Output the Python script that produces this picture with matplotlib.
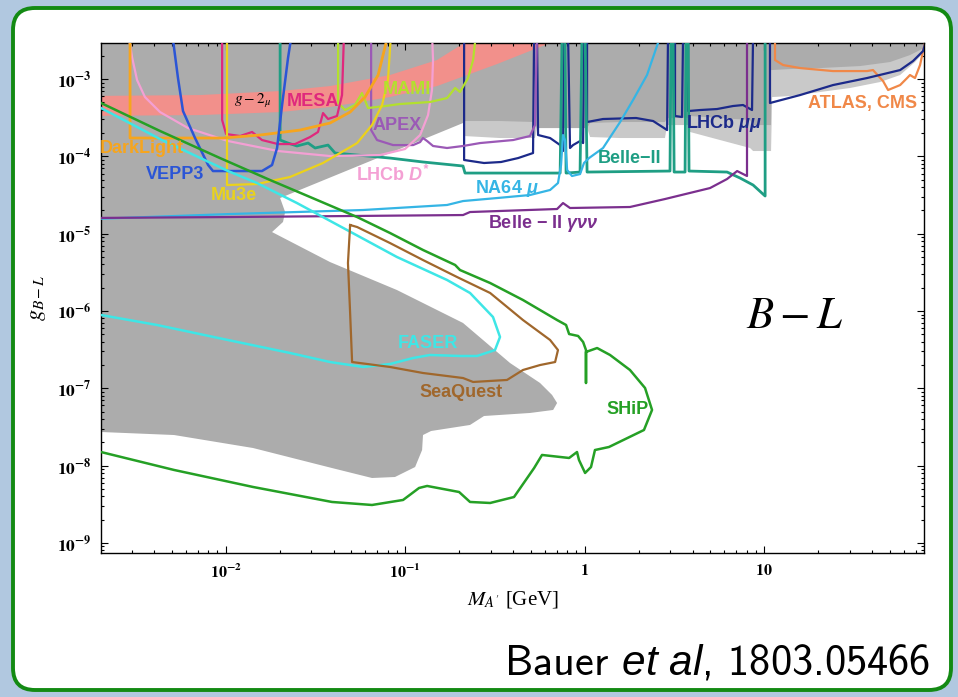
import numpy as np
import matplotlib
matplotlib.use("Agg")
import matplotlib.pyplot as plt
from matplotlib.patches import FancyBboxPatch
from matplotlib.ticker import FixedLocator, LogLocator, NullFormatter, FuncFormatter

# Digitised limits for the B-L gauge boson.
# All curves are stored as log10(M_A' / GeV) and log10(g_B-L).
# A value of -2.4 in log10(g) lies just above the plotted range (the curve runs off the top).

x_ticks = [1e-2, 1e-1, 1, 10]
y_ticks = [1e-9, 1e-8, 1e-7, 1e-6, 1e-5, 1e-4, 1e-3]

# --- existing constraints (solid grey) ---
excl_logm = [-2.8, 2.0, 2.0, 1.891, 1.813, 1.702, 1.535, 1.312, 1.145, 1.039, 1.039, 0.939,
             0.922, 0.755, 0.588, 0.577, 0.460, 0.448, 0.198, 0.031, 0.014, -0.265, -0.276,
             -0.471, -0.671, -0.677, -1.696, -1.668, -1.680, -1.741, -1.418, -1.045, -0.677,
             -0.415, -0.248, -0.181, -0.153, -0.175, -0.304, -0.560, -0.638, -0.855, -0.900,
             -0.905, -0.944, -1.056, -1.184, -1.407, -1.847, -2.287, -2.694, -2.8]
excl_logg = [-2.3, -2.3, -2.599, -2.599, -2.690, -2.780, -2.832, -2.858, -2.871, -2.884, -3.595,
             -3.595, -3.530, -3.504, -3.478, -3.504, -3.504, -3.556, -3.556, -3.569, -3.634,
             -3.634, -3.556, -3.543, -3.543, -3.569, -4.539, -4.720, -4.849, -4.979, -5.367,
             -5.729, -6.155, -6.673, -6.931, -7.086, -7.190, -7.280, -7.319, -7.358, -7.474,
             -7.552, -7.604, -7.798, -8.018, -8.147, -8.160, -8.031, -7.772, -7.604, -7.565,
             -7.565]

# fluctuating edge of the dimuon resonance searches (lighter grey)
fluct_logm = [-0.677, 2.0, 2.0, 1.891, 1.841, 1.758, 1.646, 1.479, 1.312, 1.145, 1.045, 1.039,
              0.939, 0.922, 0.755, 0.588, 0.577, 0.460, 0.448, 0.198, 0.031, 0.014, -0.265,
              -0.276, -0.471, -0.671, -0.677]
fluct_logg = [-2.3, -2.3, -2.651, -2.651, -2.780, -2.948, -3.039, -3.116, -3.168, -3.220, -3.233,
              -3.931, -3.931, -3.892, -3.789, -3.685, -3.595, -3.595, -3.763, -3.763, -3.750,
              -3.634, -3.634, -3.763, -3.763, -3.737, -3.569]

# (g-2)_mu preferred band
gm2_low_logm = [-2.8, -2.142, -1.696, -1.418, -1.084, -0.822, -0.487, -0.192, -0.10]
gm2_low_logg = [-3.478, -3.466, -3.427, -3.362, -3.233, -3.091, -2.806, -2.534, -2.42]
gm2_up_logm = [-2.8, -2.142, -1.696, -1.418, -1.084, -0.822, -0.671, -0.60]
gm2_up_logg = [-3.220, -3.207, -3.155, -3.091, -2.948, -2.754, -2.534, -2.42]

# projected sensitivities
darklight_logm = [-2.532, -2.532, -2.014, -1.808, -1.585, -1.418, -1.306, -1.223, -1.150, -1.106, -1.09]
darklight_logg = [-2.4, -3.763, -3.763, -3.724, -3.660, -3.569, -3.427, -3.233, -2.948, -2.534, -2.4]

lhcb_dstar_logm = [-2.543, -2.521, -2.493, -2.449, -2.365, -2.209, -1.986, -1.708, -1.418, -1.139,
                   -1.000, -0.916, -0.872, -0.850, -0.844, -0.850]
lhcb_dstar_logg = [-2.4, -2.715, -3.013, -3.233, -3.427, -3.634, -3.802, -3.931, -3.996, -3.983,
                   -3.905, -3.724, -3.466, -3.142, -2.754, -2.4]

vepp3_logm = [-2.298, -2.265, -2.237, -2.170, -2.097, -2.070, -1.797, -1.741, -1.713, -1.685, -1.652, -1.630]
vepp3_logg = [-2.4, -2.987, -3.414, -3.763, -4.112, -4.190, -4.190, -4.112, -3.892, -3.336, -2.728, -2.4]

mu3e_logm = [-1.992, -1.992, -1.825, -1.641, -1.457, -1.267, -1.184, -1.128, -1.095, -1.078]
mu3e_logg = [-2.4, -4.371, -4.358, -4.267, -4.086, -3.828, -3.595, -3.336, -3.013, -2.4]

mesa_logm = [-2.019, -2.019, -1.997, -1.919, -1.852, -1.797, -1.708, -1.613, -1.529, -1.485,
             -1.457, -1.429, -1.379, -1.351, -1.340]
mesa_logg = [-2.4, -3.530, -3.711, -3.737, -3.685, -3.789, -3.841, -3.841, -3.750, -3.685,
             -3.440, -3.517, -3.478, -3.207, -2.4]

mami_logm = [-1.373, -1.373, -1.334, -1.279, -1.240, -1.206, -1.111, -1.028, -0.944, -0.861,
             -0.766, -0.721, -0.694, -0.649, -0.621, -0.604]
mami_logg = [-2.4, -3.310, -3.401, -3.336, -3.181, -3.375, -3.349, -3.323, -3.310, -3.297,
             -3.246, -3.116, -3.168, -2.987, -2.754, -2.4]

apex_logm = [-1.189, -1.189, -1.156, -1.067, -0.955, -0.916, -0.900, -0.877, -0.844, -0.766,
             -0.677, -0.582, -0.398, -0.304, -0.276, -0.265]
apex_logg = [-2.4, -3.660, -3.789, -3.854, -3.854, -3.815, -3.763, -3.802, -3.866, -3.892,
             -3.866, -3.828, -3.789, -3.737, -3.595, -2.4]

belle2_logm = [-1.696, -1.696, -1.652, -1.602, -1.540, -1.501, -1.429, -1.390, -1.267, -1.084,
               -0.900, -0.677, -0.666, -0.304, -0.136, -0.125, -0.109, -0.103, -0.025, -0.014,
               0.003, 0.014, 0.476, 0.482, 0.493, 0.499, 0.560, 0.565, 0.577, 0.582, 0.794,
               0.866, 0.939, 1.006, 1.006]
belle2_logg = [-2.4, -3.789, -3.828, -3.866, -3.828, -3.892, -3.854, -3.957, -3.983, -4.022,
               -4.073, -4.125, -4.216, -4.216, -4.216, -2.4, -2.4, -4.216, -4.203, -2.4,
               -2.4, -4.203, -4.190, -2.4, -2.4, -4.203, -4.203, -2.4, -2.4, -4.190, -4.203,
               -4.280, -4.371, -4.513, -2.4]

lhcb_mumu_logm = [-0.671, -0.671, -0.560, -0.465, -0.370, -0.287, -0.281, -0.265, -0.259, -0.192,
                  -0.136, -0.120, -0.114, -0.092, -0.081, -0.064, -0.025, -0.008, -0.003, 0.014,
                  0.014, 0.103, 0.287, 0.382, 0.443, 0.460, 0.465, 0.504, 0.504, 0.543, 0.549,
                  0.577, 0.577, 0.643, 0.738, 0.827, 0.883, 0.933, 0.939, 1.033, 1.033, 1.201,
                  1.384, 1.574, 1.758, 1.830, 1.886, 1.90]
lhcb_mumu_logg = [-2.4, -4.047, -4.086, -4.073, -4.022, -3.957, -2.4, -2.4, -3.724, -3.763,
                  -3.854, -3.931, -2.4, -2.4, -3.892, -3.854, -3.802, -3.828, -2.4, -2.4,
                  -3.556, -3.517, -3.504, -3.543, -3.634, -3.660, -2.4, -2.4, -3.478, -3.491, -2.4,
                  -2.4, -3.414, -3.401, -3.388, -3.349, -3.336, -3.401, -2.4, -2.4, -3.310, -3.207,
                  -3.078, -2.987, -2.884, -2.767, -2.638, -2.52]

belle2_inv_logm = [-2.8, -1.975, -0.677, -0.638, -0.153, -0.120, -0.081, 0.253, 0.448, 0.699,
                   0.794, 0.850, 0.905, 0.905]
belle2_inv_logg = [-4.798, -4.785, -4.759, -4.720, -4.681, -4.604, -4.668, -4.655, -4.552, -4.410,
                   -4.293, -4.190, -4.254, -2.4]

na64_logm = [-2.8, -1.975, -1.234, -0.766, -0.677, -0.487, -0.304, -0.192, -0.148, -0.131, -0.120,
             -0.109, -0.097, -0.070, -0.025, -0.003, 0.025, 0.103, 0.198, 0.270, 0.348, 0.409, 0.43]
na64_logg = [-4.815, -4.746, -4.694, -4.629, -4.578, -4.539, -4.500, -4.435, -4.345, -4.112, -3.724,
             -3.789, -4.177, -4.254, -4.229, -4.086, -4.022, -3.892, -3.556, -3.272, -2.948, -2.534, -2.4]

faser_logm = [-2.8, -2.694, -2.354, -1.986, -1.825, -1.602, -1.323, -1.045, -0.766, -0.638, -0.510,
              -0.471, -0.499, -0.599, -0.694, -0.861, -0.955, -1.084, -1.234, -1.418, -1.641, -2.014,
              -2.382, -2.694, -2.8]
faser_logg = [-3.246, -3.375, -3.789, -4.190, -4.345, -4.604, -4.953, -5.302, -5.599, -5.767, -6.078,
              -6.336, -6.505, -6.582, -6.582, -6.569, -6.608, -6.686, -6.724, -6.660, -6.543, -6.362,
              -6.181, -6.052, -6.01]

seaquest_logm = [-1.306, -1.318, -1.306, -1.295, -1.084, -0.900, -0.677, -0.621, -0.432, -0.343,
                 -0.248, -0.164, -0.148, -0.192, -0.343, -0.526, -0.710, -0.900, -1.084, -1.267, -1.306]
seaquest_logg = [-4.888, -5.379, -6.026, -6.660, -6.724, -6.802, -6.867, -6.918, -6.892, -6.763,
                 -6.699, -6.660, -6.505, -6.375, -6.117, -5.767, -5.561, -5.341, -5.121, -4.914, -4.888]

ship_logm = [-2.8, -2.365, -2.031, -1.752, -1.529, -1.267, -1.084, -0.900, -0.721, -0.694, -0.526,
             -0.343, -0.153, -0.103, -0.086, -0.036, -0.008, 0.008, 0.008, 0.008, 0.070, 0.142,
             0.253, 0.337, 0.376, 0.331, 0.136, 0.058, 0.036, 0.003, -0.031, -0.042, -0.086,
             -0.237, -0.281, -0.393, -0.526, -0.638, -0.699, -0.877, -0.922, -1.011, -1.184,
             -1.407, -1.847, -2.287, -2.694, -2.8]
ship_logg = [-3.193, -3.672, -4.022, -4.306, -4.526, -4.785, -4.991, -5.211, -5.405, -5.470, -5.638,
             -5.858, -6.117, -6.181, -6.298, -6.323, -6.401, -6.505, -6.931, -6.530, -6.479, -6.569,
             -6.763, -6.996, -7.280, -7.539, -7.759, -7.798, -8.018, -8.095, -7.927, -7.824, -7.901,
             -7.862, -8.031, -8.406, -8.483, -8.470, -8.341, -8.263, -8.289, -8.444, -8.509,
             -8.470, -8.276, -8.056, -7.824, -7.78]

atlas_logm = [1.061, 1.061, 1.106, 1.201, 1.384, 1.574, 1.607, 1.663, 1.691, 1.758, 1.797, 1.813,
              1.841, 1.869, 1.886, 1.90]
atlas_logg = [-2.4, -2.754, -2.819, -2.858, -2.897, -2.897, -2.884, -3.026, -3.142, -3.078, -2.987,
              -2.948, -2.987, -2.819, -2.638, -2.5]

# label text, colour and anchor position (log10 M, log10 g)
labels = [
    ("MESA", "#e0287d", -1.513, -3.297),
    ("MAMI", "#b3e02e", -0.989, -3.129),
    ("APEX", "#9b59b6", -1.045, -3.595),
    (r"LHCb $\mathbf{D^{*}}$", "#f4a0d4", -1.067, -4.241),
    ("DarkLight", "#f6a51e", -2.465, -3.892),
    ("VEPP3", "#2b55d6", -2.281, -4.241),
    ("Mu3e", "#e9d21c", -1.952, -4.500),
    (r"NA64 $\mathbf{\mu}$", "#35b5e5", -0.432, -4.410),
    ("Belle−II", "#1f9e84", 0.253, -4.022),
    (r"LHCb $\mathbf{\mu\mu}$", "#1c2a8a", 0.777, -3.569),
    ("ATLAS, CMS", "#f08848", 1.546, -3.310),
    (r"Belle − II $\mathbf{\gamma\nu\nu}$", "#7b2f8e", -0.231, -4.862),
    ("FASER", "#3ee6e6", -0.872, -6.414),
    ("SeaQuest", "#a0672c", -0.688, -7.048),
    ("SHiP", "#25a025", 0.237, -7.280),
]

plt.rcParams["mathtext.fontset"] = "stix"
plt.rcParams["font.family"] = ["Liberation Sans", "DejaVu Sans"]
# fonts used by the 'custom' math set (label symbols and the citation)
plt.rcParams["mathtext.bf"] = "Liberation Sans:italic:bold"
plt.rcParams["mathtext.it"] = "Liberation Sans:italic"
plt.rcParams["mathtext.rm"] = "Liberation Sans"

fig = plt.figure(figsize=(9.58, 6.97), dpi=100, facecolor="#b1c8e0")

# white card with green rounded border
card = FancyBboxPatch((0.13, 0.07), 9.38, 6.82, boxstyle="round,pad=0,rounding_size=0.22",
                      transform=fig.dpi_scale_trans, facecolor="white", edgecolor="#138a13",
                      linewidth=2.8, zorder=-1)
fig.patches.append(card)

ax = fig.add_axes([0.1054, 0.2066, 0.8591, 0.7317])
ax.set_xscale("log")
ax.set_yscale("log")


def pw(v):
    return 10 ** np.asarray(v, dtype=float)


ax.fill(pw(fluct_logm), pw(fluct_logg), color="#c9c9c9", lw=0, zorder=1)
ax.fill(pw(excl_logm), pw(excl_logg), color="#acacac", lw=0, zorder=1.1)
ax.fill(pw(gm2_low_logm + gm2_up_logm[::-1]), pw(gm2_low_logg + gm2_up_logg[::-1]),
        color="#f2908b", lw=0, zorder=1.5)


def curve(logm, logg, color, lw=1.6):
    ax.plot(pw(logm), pw(logg), color=color, lw=lw, zorder=3, solid_joinstyle="round")


curve(atlas_logm, atlas_logg, "#f08848")
curve(lhcb_mumu_logm, lhcb_mumu_logg, "#1c2a8a")
curve(belle2_logm, belle2_logg, "#1f9e84", lw=2.0)
curve(na64_logm, na64_logg, "#35b5e5")
curve(belle2_inv_logm, belle2_inv_logg, "#7b2f8e")
curve(apex_logm, apex_logg, "#9b59b6")
curve(lhcb_dstar_logm, lhcb_dstar_logg, "#f4a0d4")
curve(mami_logm, mami_logg, "#b3e02e")
curve(mesa_logm, mesa_logg, "#e0287d")
curve(mu3e_logm, mu3e_logg, "#ecd21a")
curve(darklight_logm, darklight_logg, "#f6a51e", lw=2.0)
curve(vepp3_logm, vepp3_logg, "#2b55d6", lw=1.8)
curve(faser_logm, faser_logg, "#3ee6e6", lw=1.8)
curve(seaquest_logm, seaquest_logg, "#a0672c")
curve(ship_logm, ship_logg, "#25a025", lw=1.8)

for text, color, lm, lg in labels:
    ax.text(10 ** lm, 10 ** lg, text, color=color, fontsize=13, fontweight="bold",
            ha="center", va="center", math_fontfamily="custom", zorder=4)

ax.text(10 ** -1.847, 10 ** -3.285, r"$g-2_{\mu}$", fontsize=11, ha="center", va="center",
        zorder=4)
ax.text(10 ** 1.173, 10 ** -6.065, r"$B-L$", fontsize=32, ha="center", va="center", zorder=4)

ax.set_xlim(10 ** -2.694, 10 ** 1.891)
ax.set_ylim(10 ** -9.13, 10 ** -2.534)


def decade_label(v, pos):
    e = int(round(np.log10(v)))
    if e == 0:
        return r"$\mathbf{1}$"
    if e == 1:
        return r"$\mathbf{10}$"
    return r"$\mathbf{10^{%d}}$" % e


ax.xaxis.set_major_locator(FixedLocator(x_ticks))
ax.yaxis.set_major_locator(FixedLocator(y_ticks))
for axis in (ax.xaxis, ax.yaxis):
    axis.set_minor_locator(LogLocator(base=10, subs=np.arange(2, 10), numticks=200))
    axis.set_major_formatter(FuncFormatter(decade_label))
    axis.set_minor_formatter(NullFormatter())

ax.tick_params(which="both", direction="in", top=True, right=True, width=0.8)
ax.tick_params(axis="x", labelsize=11.5)
ax.tick_params(axis="y", labelsize=12.5)
ax.tick_params(which="major", length=5, pad=7)
ax.tick_params(which="minor", length=2.5)
for sp in ax.spines.values():
    sp.set_linewidth(1.0)

ax.set_xlabel(r"$M_{A'}$ [GeV]", fontsize=15, family="Liberation Serif", labelpad=6)
ax.set_ylabel(r"$g_{B-L}$", fontsize=16, labelpad=6)

fig.text(930 / 958, 1 - 675 / 697, r"Bauer $\mathit{et\ al}$, 1803.05466", ha="right",
         va="baseline", fontsize=30.5, family="cmss10", math_fontfamily="custom")

fig.savefig("out.png", dpi=100, facecolor=fig.get_facecolor())
